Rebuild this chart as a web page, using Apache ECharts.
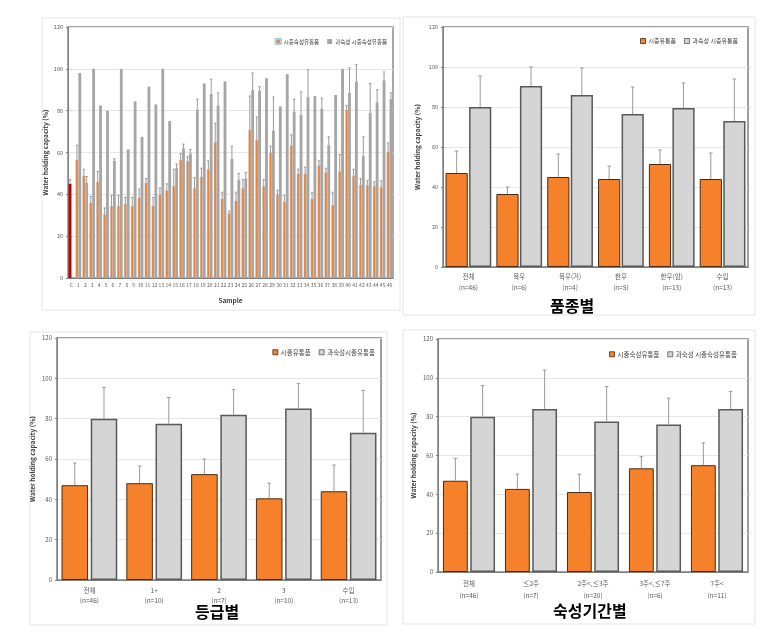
<!DOCTYPE html>
<html><head><meta charset="utf-8">
<script src="https://cdn.jsdelivr.net/npm/echarts/dist/echarts.min.js"></script>
<style>html,body{margin:0;padding:0;background:#fff}#c{width:775px;height:639px}</style>
</head><body><div id="c"></div>
<script>
// ---------- Panel 1: per-sample ----------
const p1Cats = ['C','1','2','3','4','5','6','7','8','9','10','11','12','13','14','15','16','17','18','19','20','21','22','23','24','25','26','27','28','29','30','31','32','33','34','35','36','37','38','39','40','41','42','43','44','45','46'];
const p1Fresh = [45,56.5,49,36,46,30.5,34.5,34.5,35.5,34.5,38.5,45.5,34.5,40,42,44,56.5,56,43,48.5,52,65,38,31,37,43,71,66,44,60,40,36.5,63.5,50,50,38,54,50.5,35,51,80.5,49,44.5,44.5,44,43.5,60.5];
const p1FreshSd = [2,7,3,3,5,3,5,5,3,4,4,2,4,3,3,8,3,2,5,4,4,9,3,1,4,4,16,11,3,3,2,3,5,2,3,3,2,2,6,8,2,3,3,2,2,3,4];
const p1Over = [null,98,45.5,100,82.5,80,56,100,61.5,84.5,67.5,91.5,83,100,75,52.5,62,59.5,80.5,93,88,82.5,94,57,47,47.5,90,89.5,95.5,70.5,82,97.5,79.5,78,86.5,87,81,63.5,87.5,100,88.5,94,58.5,79,84,94.5,85.5];
const p1OverSd = [null,0,3,0,0,0,1,0,0,0,0,0,0,0,0,2,2,2,5,0,7,6,0,6,3,3,8,2,0,16,0,0,6,11,13,0,5,4,0,0,12,8,9,14,6,4,3];

// ---------- Panel 2: by breed ----------
const p2Cats = ['전체\n(n=46)','육우\n(n=6)','육우(거)\n(n=4)','한우\n(n=5)','한우(암)\n(n=13)','수입\n(n=13)'];
const p2Fresh = [47,36.5,45,44,51.5,44];
const p2FreshSd = [11,3.5,11.5,6.5,7,13];
const p2Over = [80,90.5,86,76.5,79.5,73];
const p2OverSd = [15.5,9.5,13.5,13.5,12.5,21];

// ---------- Panel 3: by grade ----------
const p3Cats = ['전체\n(n=46)','1+\n(n=10)','2\n(n=7)','3\n(n=10)','수입\n(n=13)'];
const p3Fresh = [47,48,52.5,40.5,44];
const p3FreshSd = [11,8.5,7.5,7.5,13];
const p3Over = [80,77.5,82,85,73];
const p3OverSd = [15.5,13,12.5,12.5,21];

// ---------- Panel 4: by aging period ----------
const p4Cats = ['전체\n(n=46)','≤2주\n(n=7)','2주<,≤3주\n(n=20)','3주<,≤7주\n(n=6)','7주<\n(n=11)'];
const p4Fresh = [47,42.8,41.2,53.4,55];
const p4FreshSd = [11.5,7.6,9.2,6,11.5];
const p4Over = [80,84,77.5,76,84];
const p4OverSd = [16,20,18,13.5,9];

const yTicks = [0,20,40,60,80,100,120];

const FONT = '"Noto Sans CJK KR","Noto Sans",sans-serif';
const ORANGE = '#f5822b';
const GRAYBAR = '#d5d5d5';
const ERRC = '#9a9a9a';

function yAxis(gi, nameGap, fs){
  return {gridIndex:gi, type:'value', min:yTicks[0], max:yTicks[yTicks.length-1], interval:yTicks[1]-yTicks[0],
    name:'Water holding capacity (%)', nameLocation:'middle', nameRotate:90, nameGap:nameGap,
    nameTextStyle:{fontFamily:FONT, fontSize:6.5, fontWeight:'bold', color:'#404040'},
    axisLine:{show:true, lineStyle:{color:'#7f7f7f', width:1}},
    axisTick:{show:true, length:2, lineStyle:{color:'#7f7f7f'}},
    axisLabel:{fontFamily:FONT, fontSize:fs, color:'#595959', margin:5},
    splitLine:{show:true, lineStyle:{color:'#e6e6e6', width:1}}};
}
function xAxis(gi, cats, extra){
  return Object.assign({gridIndex:gi, type:'category', data:cats,
    axisLine:{show:true, lineStyle:{color:'#7f7f7f', width:1}},
    axisTick:{show:false},
    axisLabel:{interval:0, fontFamily:FONT, fontSize:6.5, color:'#595959', lineHeight:11, margin:5}}, extra||{});
}
function errSeries(gi, vals, sds, pos, catGap, barGap, capHalf){
  const data = vals.map((v,i)=>[i, v, sds[i]]);
  return {type:'custom', xAxisIndex:gi, yAxisIndex:gi, z:5, silent:true, data:data,
    encode:{x:0, y:1},
    renderItem:function(params, api){
      const i = api.value(0), v = api.value(1), sd = api.value(2);
      if (v == null || isNaN(v) || sd == null || isNaN(sd) || sd <= 0) return null;
      const band = api.size([1,0])[0];
      const usable = band*(1-catGap);
      const w = usable/(2+barGap);
      const total = w*(2+barGap);
      const off = pos===0 ? -total/2 + w/2 : total/2 - w/2;
      const p0 = api.coord([i, v]);
      const p1 = api.coord([i, v+sd]);
      const x = p0[0] + off;
      return {type:'group', children:[
        {type:'line', shape:{x1:x, y1:p0[1], x2:x, y2:p1[1]}, style:{stroke:ERRC, lineWidth:1}},
        {type:'line', shape:{x1:x-capHalf, y1:p1[1], x2:x+capHalf, y2:p1[1]}, style:{stroke:ERRC, lineWidth:1}}
      ]};
    }};
}
function barPair(gi, nameA, valsA, nameB, valsB, catGap, barGap, styleA, styleB){
  return [
    {type:'bar', name:nameA, xAxisIndex:gi, yAxisIndex:gi, data:valsA, barCategoryGap:(catGap*100)+'%', barGap:(barGap*100)+'%', itemStyle:styleA},
    {type:'bar', name:nameB, xAxisIndex:gi, yAxisIndex:gi, data:valsB, barCategoryGap:(catGap*100)+'%', barGap:(barGap*100)+'%', itemStyle:styleB}
  ];
}

const orangeStyle = {color:ORANGE, borderColor:'#4a2a12', borderWidth:1};
const grayStyle = {color:GRAYBAR, borderColor:'#595959', borderWidth:1.5};

const p1FreshData = p1Fresh.map((v,i)=> i===0 ? {value:v, itemStyle:{color:'#c00000', borderWidth:0}} : v);

const series = [];
series.push(...barPair(0,'시중숙성유통품',p1FreshData,'과숙성 시중숙성유통품',p1Over,0.18,0,
    {color:'#f08231', borderColor:'#a9cbe8', borderWidth:0.4},{color:'#a6a6a6'}));
series.push(errSeries(0,p1Fresh,p1FreshSd,0,0.18,0,1.2), errSeries(0,p1Over,p1OverSd,1,0.18,0,1.2));
series.push(...barPair(1,'시중유통품',p2Fresh,'과숙성 시중유통품',p2Over,0.10,0.06,orangeStyle,grayStyle));
series.push(errSeries(1,p2Fresh,p2FreshSd,0,0.10,0.06,1.8), errSeries(1,p2Over,p2OverSd,1,0.10,0.06,1.8));
series.push(...barPair(2,'시중유통품',p3Fresh,'과숙성시중유통품',p3Over,0.14,0.10,orangeStyle,grayStyle));
series.push(errSeries(2,p3Fresh,p3FreshSd,0,0.14,0.10,1.8), errSeries(2,p3Over,p3OverSd,1,0.14,0.10,1.8));
series.push(...barPair(3,'시중숙성유통품',p4Fresh,'과숙성 시중숙성유통품',p4Over,0.16,0.10,orangeStyle,grayStyle));
series.push(errSeries(3,p4Fresh,p4FreshSd,0,0.16,0.10,1.8), errSeries(3,p4Over,p4OverSd,1,0.16,0.10,1.8));

function legend(names, right, top, fs, styles){
  return {right:right, top:top, itemWidth:5, itemHeight:5, itemGap:8, icon:'rect',
    textStyle:{fontFamily:FONT, fontSize:fs, color:'#404040', padding:[0,0,0,-2]},
    selectedMode:false,
    data:names.map((n,i)=>({name:n, itemStyle:styles[i]}))};
}

const option = {
  animation:false,
  backgroundColor:'#fff',
  textStyle:{fontFamily:FONT},
  grid:[
    {left:68, right:382, top:27, bottom:361, show:true, borderColor:'#8c8c8c', borderWidth:1.5},
    {left:443, right:27, top:27, bottom:372, show:true, borderColor:'#7f7f7f', borderWidth:1.5},
    {left:57, right:394, top:338, bottom:59, show:true, borderColor:'#7f7f7f', borderWidth:1.5},
    {left:438, right:27, top:339, bottom:67, show:true, borderColor:'#7f7f7f', borderWidth:1.5}
  ],
  xAxis:[
    xAxis(0, p1Cats, {name:'Sample', nameLocation:'middle', nameGap:19,
      nameTextStyle:{fontFamily:FONT, fontSize:6.5, fontWeight:'bold', color:'#404040'},
      axisLabel:{interval:0, fontFamily:FONT, fontSize:5, color:'#595959', margin:5}}),
    xAxis(1, p2Cats, {axisLabel:{interval:0, fontFamily:FONT, fontSize:6.5, color:'#595959', lineHeight:11, margin:4}}),
    xAxis(2, p3Cats, {axisLabel:{interval:0, fontFamily:FONT, fontSize:6.5, color:'#595959', lineHeight:10, margin:6}}),
    xAxis(3, p4Cats, {axisLabel:{interval:0, fontFamily:FONT, fontSize:6.5, color:'#595959', lineHeight:12, margin:6}})
  ],
  yAxis:[ yAxis(0,19,5.5), yAxis(1,22,5.5), yAxis(2,21,6), yAxis(3,21,6) ],
  legend:[
    legend(['시중숙성유통품','과숙성 시중숙성유통품'], 383, 33, 5.5, [{color:'#f08231'},{color:'#a6a6a6'}]),
    legend(['시중유통품','과숙성 시중유통품'], 32, 33, 6, [{color:ORANGE,borderColor:'#4a2a12',borderWidth:0.8},{color:GRAYBAR,borderColor:'#595959',borderWidth:0.8}]),
    legend(['시중유통품','과숙성시중유통품'], 395, 344, 6.5, [{color:ORANGE,borderColor:'#4a2a12',borderWidth:0.8},{color:GRAYBAR,borderColor:'#595959',borderWidth:0.8}]),
    legend(['시중숙성유통품','과숙성 시중숙성유통품'], 33, 346, 6.5, [{color:ORANGE,borderColor:'#4a2a12',borderWidth:0.8},{color:GRAYBAR,borderColor:'#595959',borderWidth:0.8}])
  ],
  graphic:[
    {type:'rect', z:-10, silent:true, shape:{x:42, y:18, width:358, height:292}, style:{fill:'none', stroke:'#e4e4e4', lineWidth:1}},
    {type:'rect', z:-10, silent:true, shape:{x:403, y:17, width:352, height:298}, style:{fill:'none', stroke:'#e4e4e4', lineWidth:1}},
    {type:'rect', z:-10, silent:true, shape:{x:30, y:332, width:357, height:293}, style:{fill:'none', stroke:'#e4e4e4', lineWidth:1}},
    {type:'rect', z:-10, silent:true, shape:{x:403, y:330, width:352, height:294}, style:{fill:'none', stroke:'#e4e4e4', lineWidth:1}},
    {type:'text', left:550, top:298, style:{text:'품종별', font:'bold 16px '+FONT, fill:'#000'}},
    {type:'text', left:195, top:604, style:{text:'등급별', font:'bold 16px '+FONT, fill:'#000'}},
    {type:'text', left:553, top:603, style:{text:'숙성기간별', font:'bold 16px '+FONT, fill:'#000'}}
  ],
  series:series
};
const chart = echarts.init(document.getElementById('c'), null, {renderer:'canvas'});
chart.setOption(option);
</script>
</body></html>
